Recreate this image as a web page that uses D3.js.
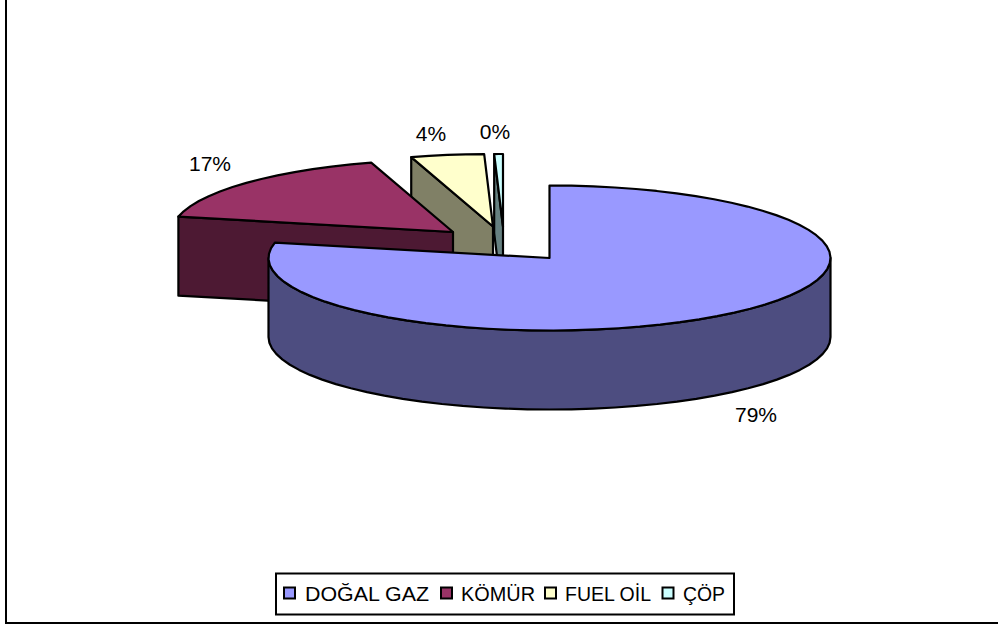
<!DOCTYPE html>
<html><head><meta charset="utf-8">
<script src="https://cdn.jsdelivr.net/npm/d3@7"></script>
<style>html,body{margin:0;padding:0;background:#fff}svg{display:block}text{font-family:"Liberation Sans",Arial,sans-serif;fill:#000}</style>
</head><body><svg id="c" width="998" height="628"></svg>
<script>
const categories = ["DOĞAL GAZ","KÖMÜR","FUEL OİL","ÇÖP"];
const values = [78.4,16.9,4.2,0.5];
const pctLabels = ["79%","17%","4%","0%"];
const topColors = ["#9999FF","#993366","#FFFFCC","#CCFFFF"];
const sideColors = ["#4D4D80","#4D1933","#808066","#668080"];

const W=998,H=628,rx=281,ry=72.5,depth=79;
const apexes = [[549.5,258],[453,232],[493,226.5],[503,226.5]];
const labelPos = [[756,422],[210,171],[431,141],[495,138.5]];
const svg=d3.select("#c");
svg.append("rect").attr("x",6).attr("y",-20).attr("width",W+20).attr("height",643)
  .attr("fill","#fff").attr("stroke","#000").attr("stroke-width",2);

const arcs=d3.pie().sort(null).startAngle(0).endAngle(2*Math.PI)(values);
const line=d3.line();
const pt=(a,c,dz=0)=>[c[0]+rx*Math.sin(a),c[1]-ry*Math.cos(a)+dz];
const rimAngles=(s,e)=>{const n=Math.max(2,Math.ceil((e-s)/(Math.PI/40)));return d3.range(n+1).map(i=>s+(e-s)*i/n);};
const stroke=s=>s.attr("stroke","#000").attr("stroke-width",2.2).attr("stroke-linejoin","round");

// back slices first, the main slice last
[3,2,1,0].forEach(i=>{
  const d=arcs[i],c=apexes[i],g=svg.append("g");
  const s=d.startAngle,e=d.endAngle;
  const start=pt(s,c);
  if(i===0){
    const as=rimAngles(Math.PI/2,3*Math.PI/2);
    const top=as.map(a=>pt(a,c)),bot=as.map(a=>pt(a,c,depth)).reverse();
    stroke(g.append("path").attr("d",line([...top,...bot])+"Z").attr("fill",sideColors[i]));
  }else{
    const f=[start,c,[c[0],c[1]+depth],[start[0],start[1]+depth]];
    stroke(g.append("path").attr("d",line(f)+"Z").attr("fill",sideColors[i]));
  }
  const rim=rimAngles(s,e).map(a=>pt(a,c));
  stroke(g.append("path").attr("d",line([c,...rim])+"Z").attr("fill",topColors[i]));
});

pctLabels.forEach((t,i)=>svg.append("text").attr("x",labelPos[i][0]).attr("y",labelPos[i][1])
  .attr("text-anchor","middle").attr("font-size",21).text(t));

svg.append("rect").attr("x",276).attr("y",573.5).attr("width",458).attr("height",41)
  .attr("fill","#fff").attr("stroke","#000").attr("stroke-width",2);
const lx=[284,441,545,662.5], tx=[305,461,565,683], tw=[124,74,86,42];
categories.forEach((t,i)=>{
  svg.append("rect").attr("x",lx[i]).attr("y",587.5).attr("width",11).attr("height",11)
    .attr("fill",topColors[i]).attr("stroke","#000").attr("stroke-width",2);
  svg.append("text").attr("x",tx[i]).attr("y",601).attr("font-size",21)
    .attr("textLength",tw[i]).attr("lengthAdjust","spacingAndGlyphs").text(t);
});
</script></body></html>
